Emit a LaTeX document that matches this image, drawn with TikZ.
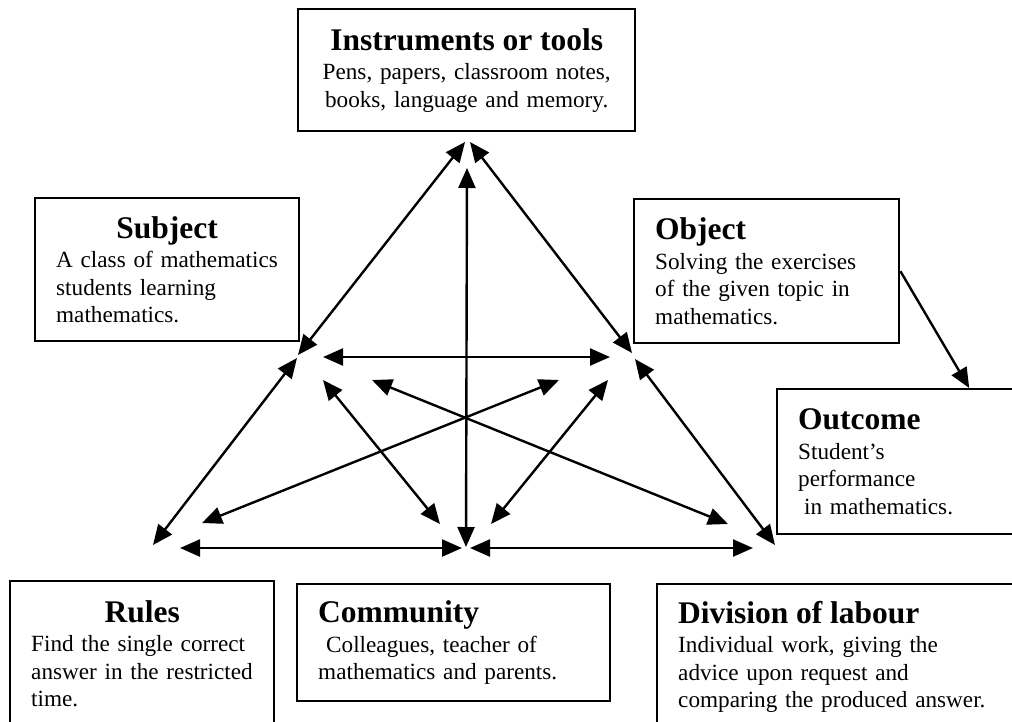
\documentclass[tikz,border=0pt]{standalone}
\usepackage{fontspec}
\setmainfont{Liberation Serif}
\usetikzlibrary{arrows.meta}
\setlength{\parindent}{0pt}
\newcommand{\boxhead}[1]{{\fontsize{31.5}{34}\selectfont\bfseries #1}}
\newcommand{\midhead}[1]{\makebox[\dimexpr\hsize-18pt\relax]{\boxhead{#1}}}

\begin{document}
\begin{tikzpicture}[x=1pt, y=-1pt,
        big/.tip={Triangle[length=20pt,width=17pt]},
        link/.style={line width=2.4pt, big-big},
        frame/.style={draw, line width=2.4pt, anchor=north west, inner ysep=0pt,
            font={\fontsize{23.2}{27.5}\selectfont}},
        box/.style={frame, inner xsep=12pt, align=left,
            execute at begin node={\leftskip=9pt}}]
        \useasboundingbox (0,0) rectangle (1012,721);
        \clip (0,0) rectangle (1012,721);
        % the six boxes round the triangle
        \node[frame, inner xsep=21pt, align=center, text width=295pt, minimum height=122pt] (tools) at (297,8)
            {\boxhead{Instruments or tools}\\[2pt] Pens, papers, classroom notes,\\ books, language and memory.};
        \node[box, text width=240pt, minimum height=143pt] (subject) at (34,197)
            {\midhead{Subject}\\[2pt] A class of mathematics\\ students learning\\ mathematics.};
        \node[box, text width=241pt, minimum height=144pt] (object) at (633,198)
            {\boxhead{Object}\\[2pt] Solving the exercises\\ of the given topic in\\ mathematics.};
        \node[box, text width=360pt, minimum height=145pt] (outcome) at (776,388)
            {\boxhead{Outcome}\\[2pt] Student's\\ performance\\ \hspace*{6pt}in mathematics.};
        \node[box, text width=240pt, minimum height=145pt] (rules) at (9,580)
            {\midhead{Rules}\\[2pt] Find the single correct\\ answer in the restricted\\ time.};
        \node[box, text width=289pt, minimum height=117pt] (community) at (296,583)
            {\boxhead{Community}\\[2pt] \hspace*{8pt}Colleagues, teacher of\\ mathematics and parents.};
        \node[box, text width=420pt, minimum height=145pt] (labour) at (656,583)
            {\boxhead{Division of labour}\\[2pt] Individual work, giving the\\ advice upon request and\\ comparing the produced answer.};
        % ends of the arrows
        \coordinate (tl) at (465,142);
        \coordinate (tr) at (470,142);
        \coordinate (tv) at (467,168);
        \coordinate (sa) at (298,355);
        \coordinate (sb) at (297,358);
        \coordinate (sh) at (323,357);
        \coordinate (sd) at (323,380);
        \coordinate (sx) at (372,380);
        \coordinate (oa) at (632,353);
        \coordinate (ob) at (635,359);
        \coordinate (oh) at (610,357);
        \coordinate (od) at (608,380);
        \coordinate (ox) at (559,380);
        \coordinate (ra) at (153,545);
        \coordinate (rh) at (180,548);
        \coordinate (rx) at (202,523);
        \coordinate (ca) at (466,547);
        \coordinate (cl) at (462,548);
        \coordinate (cr) at (470,548);
        \coordinate (cs) at (440,524);
        \coordinate (co) at (491,524);
        \coordinate (da) at (775,545);
        \coordinate (dh) at (753,548);
        \coordinate (dx) at (728,524);
        % sides
        \draw[link] (tl) -- (sa);
        \draw[link] (sb) -- (ra);
        \draw[link] (tr) -- (oa);
        \draw[link] (ob) -- (da);
        \draw[link] (rh) -- (cl);
        \draw[link] (cr) -- (dh);
        % inside
        \draw[link] (tv) -- (ca);
        \draw[link] (sh) -- (oh);
        \draw[link] (sd) -- (cs);
        \draw[link] (od) -- (co);
        \draw[link] (sx) -- (dx);
        \draw[link] (ox) -- (rx);
        \draw[line width=2.4pt, -big] (object.east) -- (outcome.north);
    \end{tikzpicture}
\end{document}
